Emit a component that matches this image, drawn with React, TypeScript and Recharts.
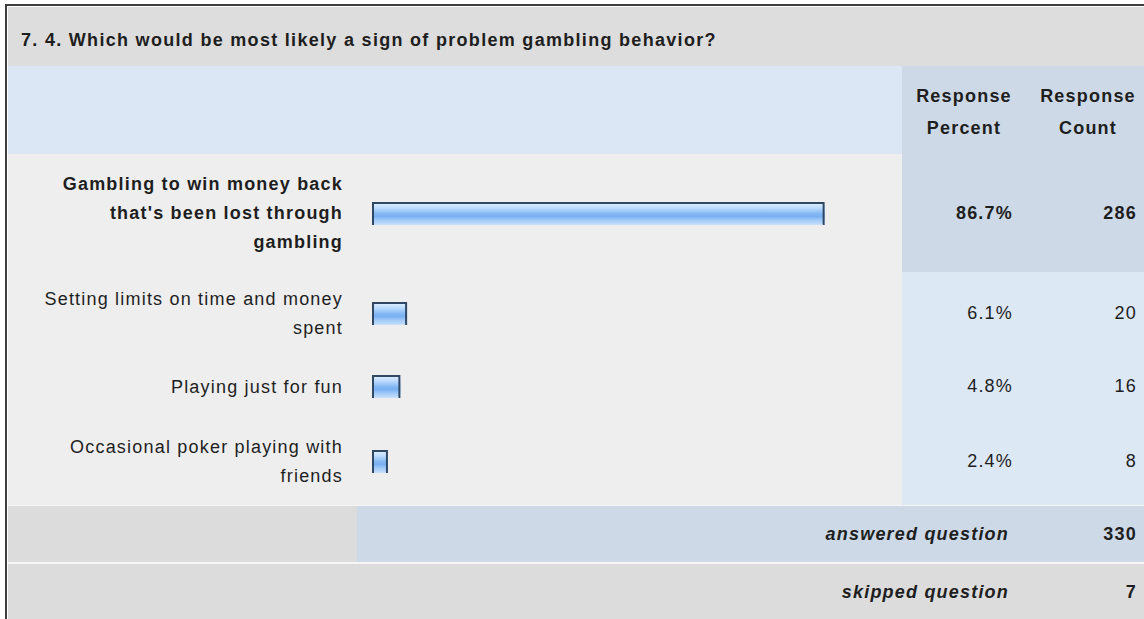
import React from "react";
import { BarChart, Bar, XAxis, YAxis } from "recharts";

// ---------- data ----------
const questionTitle = "7. 4. Which would be most likely a sign of problem gambling behavior?";
const categories = [
  "Gambling to win money back that's been lost through gambling",
  "Setting limits on time and money spent",
  "Playing just for fun",
  "Occasional poker playing with friends",
];
const categoryLines = [
  ["Gambling to win money back", "that's been lost through", "gambling"],
  ["Setting limits on time and money", "spent"],
  ["Playing just for fun"],
  ["Occasional poker playing with", "friends"],
];
const responsePercent = [86.7, 6.1, 4.8, 2.4];
const responseCount = [286, 20, 16, 8];
const percentLabels = ["86.7%", "6.1%", "4.8%", "2.4%"];
const headerPercent = ["Response", "Percent"];
const headerCount = ["Response", "Count"];
const answeredLabel = "answered question";
const answeredCount = 330;
const skippedLabel = "skipped question";
const skippedCount = 7;

// ---------- layout / style ----------
const FONT = '"Liberation Sans", Arial, Helvetica, sans-serif';
const LS = 1.2;
const ROW_HEIGHTS = [118, 83, 63, 87];
const ROWS_TOP = 154;
const CONTENT_LEFT = 8;
const COL_SPLIT = 902;
const W = 1144;
const TEXT = "#1e1e1e";

const GlossyBar = (props: any) => {
  const { x, y, width, height, gid } = props;
  const w = width + 3.5;
  return (
    <g>
      <rect x={x} y={y} width={w} height={height} fill={`url(#${gid})`} />
      <path
        d={`M${x + 1},${y + height} L${x + 1},${y + 1} L${x + w - 1},${y + 1} L${x + w - 1},${y + height}`}
        stroke="#2f4866"
        strokeWidth={2}
        fill="none"
      />
      <line x1={x + 2} x2={x + w - 2} y1={y + height - 0.5} y2={y + height - 0.5} stroke="#c9def6" strokeWidth={1} />
    </g>
  );
};

const makeTick = (lines: string[], bold: boolean) => (props: any) => {
  const { x, y } = props;
  const lh = 29;
  const n = lines.length;
  return (
    <text
      x={x}
      y={y}
      textAnchor="end"
      fill={TEXT}
      style={{ fontFamily: FONT, fontSize: 18, fontWeight: bold ? 700 : 400, letterSpacing: LS }}
    >
      {lines.map((ln, i) => (
        <tspan key={i} x={x} y={y + (i - (n - 1) / 2) * lh} dy="0.35em">
          {ln}
        </tspan>
      ))}
    </text>
  );
};

const RowChart = ({ idx, height }: { idx: number; height: number }) => {
  const data = [{ name: categories[idx], value: responsePercent[idx] }];
  const gid = `glossy${idx}`;
  return (
    <BarChart
      width={COL_SPLIT - CONTENT_LEFT}
      height={height}
      data={data}
      layout="vertical"
      margin={{ top: 0, right: 12, bottom: 0, left: 0 }}
    >
      <defs>
        <linearGradient id={gid} x1="0" y1="0" x2="0" y2="1">
          <stop offset="0%" stopColor="#e4f2ff" />
          <stop offset="25%" stopColor="#bfdcfd" />
          <stop offset="50%" stopColor="#86b9f4" />
          <stop offset="62%" stopColor="#78aff2" />
          <stop offset="80%" stopColor="#a3cbf8" />
          <stop offset="100%" stopColor="#c6e0fc" />
        </linearGradient>
      </defs>
      <XAxis type="number" domain={[0, 100]} hide />
      <YAxis
        type="category"
        dataKey="name"
        width={364}
        axisLine={false}
        tickLine={false}
        tickSize={0}
        tickMargin={29}
        tick={makeTick(categoryLines[idx], idx === 0)}
        interval={0}
      />
      <Bar
        dataKey="value"
        barSize={23}
        isAnimationActive={false}
        shape={(p: any) => <GlossyBar {...p} gid={gid} />}
      />
    </BarChart>
  );
};

const abs = (s: React.CSSProperties): React.CSSProperties => ({ position: "absolute", ...s });

export default function App() {
  const rowTops: number[] = [];
  let acc = ROWS_TOP;
  ROW_HEIGHTS.forEach((h) => {
    rowTops.push(acc);
    acc += h;
  });
  const rowsBottom = acc;
  const valueStyle = (bold: boolean): React.CSSProperties => ({
    fontFamily: FONT,
    fontSize: 18,
    fontWeight: bold ? 700 : 400,
    letterSpacing: LS,
    color: TEXT,
    whiteSpace: "nowrap",
  });

  return (
    <div style={abs({ left: 0, top: 0, width: W, height: 619, background: "#ffffff", overflow: "hidden", fontFamily: FONT })}>
      {/* outer border */}
      <div style={abs({ left: 5, top: 4, width: W - 5, height: 2, background: "#3e3e3e" })} />
      <div style={abs({ left: 5, top: 4, width: 2, height: 619, background: "#3e3e3e" })} />

      {/* title band */}
      <div style={abs({ left: CONTENT_LEFT, top: 7, width: W, height: 59, background: "#dddddd" })} />
      <div
        style={abs({
          left: 21,
          top: 28,
          height: 24,
          lineHeight: "24px",
          fontSize: 18,
          fontWeight: 700,
          letterSpacing: 1.3,
          color: TEXT,
          whiteSpace: "nowrap",
        })}
      >
        {questionTitle}
      </div>

      {/* header row */}
      <div style={abs({ left: CONTENT_LEFT, top: 66, width: COL_SPLIT - CONTENT_LEFT, height: ROWS_TOP - 66, background: "#dce7f5" })} />
      <div style={abs({ left: COL_SPLIT, top: 66, width: W - COL_SPLIT, height: ROWS_TOP - 66, background: "#cdd9e6" })} />
      <div style={abs({ left: 914, top: 80, width: 100, textAlign: "center", lineHeight: "32px", ...valueStyle(true) })}>
        {headerPercent[0]}
        <br />
        {headerPercent[1]}
      </div>
      <div style={abs({ left: 1038, top: 80, width: 100, textAlign: "center", lineHeight: "32px", ...valueStyle(true) })}>
        {headerCount[0]}
        <br />
        {headerCount[1]}
      </div>

      {/* data rows */}
      <div style={abs({ left: CONTENT_LEFT, top: ROWS_TOP, width: COL_SPLIT - CONTENT_LEFT, height: rowsBottom - ROWS_TOP, background: "#eeeeee" })} />
      {ROW_HEIGHTS.map((h, i) => (
        <div
          key={`bg${i}`}
          style={abs({ left: COL_SPLIT, top: rowTops[i], width: W - COL_SPLIT, height: h, background: i === 0 ? "#cdd9e6" : "#dde8f5" })}
        />
      ))}
      {ROW_HEIGHTS.map((h, i) => (
        <div key={`ch${i}`} style={abs({ left: CONTENT_LEFT, top: rowTops[i], width: COL_SPLIT - CONTENT_LEFT, height: h })}>
          <RowChart idx={i} height={h} />
        </div>
      ))}
      {ROW_HEIGHTS.map((h, i) => (
        <div
          key={`pc${i}`}
          style={abs({ left: COL_SPLIT, top: rowTops[i], width: 111, height: h, lineHeight: `${h}px`, textAlign: "right", ...valueStyle(i === 0) })}
        >
          {percentLabels[i]}
        </div>
      ))}
      {ROW_HEIGHTS.map((h, i) => (
        <div
          key={`ct${i}`}
          style={abs({ left: 1040, top: rowTops[i], width: 97, height: h, lineHeight: `${h}px`, textAlign: "right", ...valueStyle(i === 0) })}
        >
          {responseCount[i]}
        </div>
      ))}

      {/* answered row */}
      <div style={abs({ left: CONTENT_LEFT, top: rowsBottom, width: W, height: 1, background: "#f4f4f4" })} />
      <div style={abs({ left: CONTENT_LEFT, top: rowsBottom + 1, width: 357 - CONTENT_LEFT, height: 56, background: "#dcdcdc" })} />
      <div style={abs({ left: 357, top: rowsBottom + 1, width: W - 357, height: 56, background: "#cdd9e6" })} />
      <div
        style={abs({ left: 700, top: rowsBottom + 1, width: 309, height: 56, lineHeight: "56px", textAlign: "right", fontStyle: "italic", ...valueStyle(true) })}
      >
        {answeredLabel}
      </div>
      <div style={abs({ left: 1040, top: rowsBottom + 1, width: 97, height: 56, lineHeight: "56px", textAlign: "right", ...valueStyle(true) })}>
        {answeredCount}
      </div>

      {/* separator */}
      <div style={abs({ left: CONTENT_LEFT, top: rowsBottom + 57, width: W, height: 2, background: "#f6f6f6" })} />

      {/* skipped row */}
      <div style={abs({ left: CONTENT_LEFT, top: rowsBottom + 59, width: W, height: 60, background: "#dcdcdc" })} />
      <div
        style={abs({ left: 700, top: rowsBottom + 59, width: 309, height: 56, lineHeight: "56px", textAlign: "right", fontStyle: "italic", ...valueStyle(true) })}
      >
        {skippedLabel}
      </div>
      <div style={abs({ left: 1040, top: rowsBottom + 59, width: 97, height: 56, lineHeight: "56px", textAlign: "right", ...valueStyle(true) })}>
        {skippedCount}
      </div>
    </div>
  );
}
